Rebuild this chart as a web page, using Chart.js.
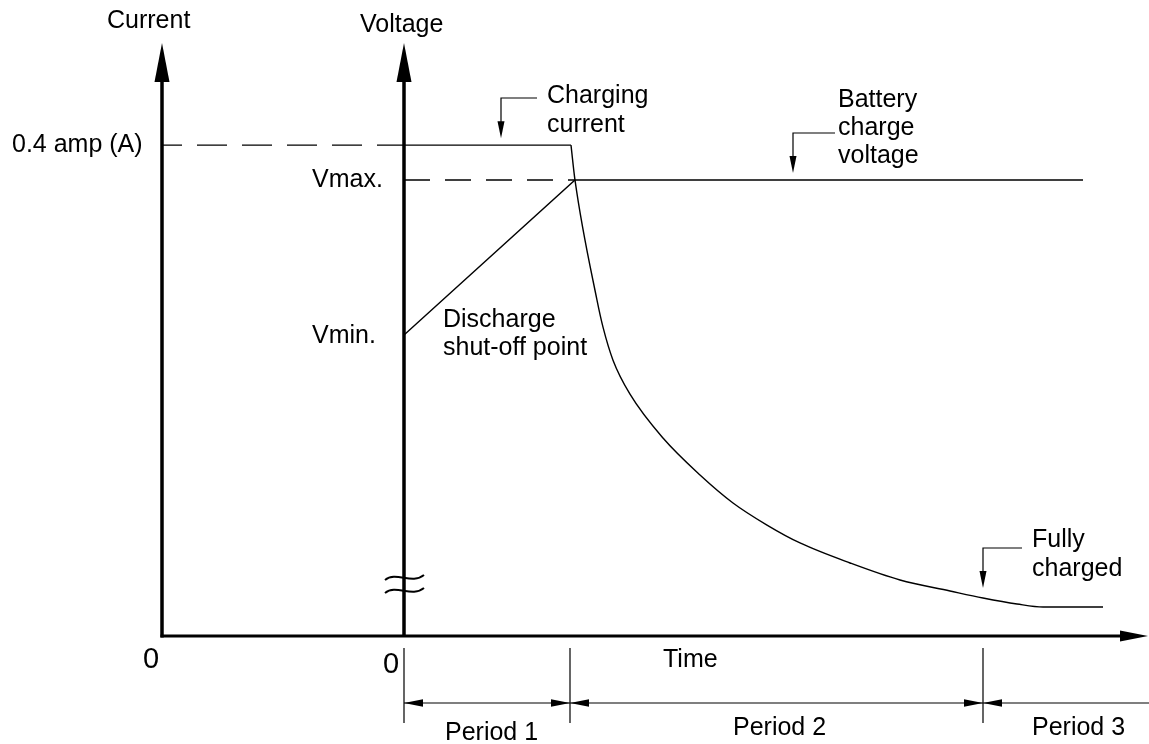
<!DOCTYPE html>
<html>
<head>
<meta charset="utf-8">
<title>Battery charging profile</title>
<script src="https://cdn.jsdelivr.net/npm/chart.js@4.4.1/dist/chart.umd.min.js"></script>
<style>
  html, body { margin: 0; padding: 0; background: #fff; }
  canvas { display: block; }
</style>
</head>
<body>
<canvas id="chart" width="1149" height="744"></canvas>
<script>
// time in arbitrary units, 0 = start of charge (voltage axis)
const currentTime = [0, 16.7, 17.1, 19.3, 19.9, 20.9, 22.6, 25.9, 29.6, 32.9, 36.3, 39.6, 44.6, 49.6, 54.6, 57.9, 61.3, 63.9, 69.9];
const currentAmps = [0.4, 0.4, 0.3715, 0.2737, 0.2517, 0.2248, 0.1971, 0.1613, 0.1312, 0.1084, 0.0904, 0.0758, 0.0595, 0.0456, 0.0367, 0.0310, 0.0261, 0.0236, 0.0236];
const voltageTime = [0, 17.1, 67.9];
const voltageLevels = [3.0, 4.2, 4.2];
const vMin = 3.0;
const vMax = 4.2;
const iCharge = 0.4;
const periodBounds = [0, 16.6, 57.9];
const periodLabels = ['Period 1', 'Period 2', 'Period 3'];

const FONT = '"Liberation Sans", Arial, sans-serif';
const tMin = -24.2, tMax = 71.6;

function pts(xs, ys) {
  return xs.map((x, i) => ({ x: x, y: ys[i] }));
}

function tri(ctx, tx, ty, dx, dy, len, hw) {
  const bx = tx - dx * len, by = ty - dy * len;
  ctx.beginPath();
  ctx.moveTo(tx, ty);
  ctx.lineTo(bx - dy * hw, by + dx * hw);
  ctx.lineTo(bx + dy * hw, by - dx * hw);
  ctx.closePath();
  ctx.fill();
}

function leader(ctx, tipX, tipY, cornerY, endX) {
  ctx.lineWidth = 1.2;
  ctx.beginPath();
  ctx.moveTo(endX, cornerY);
  ctx.lineTo(tipX, cornerY);
  ctx.lineTo(tipX, tipY - 15);
  ctx.stroke();
  tri(ctx, tipX, tipY, 0, 1, 17, 3.5);
}

const diagramPlugin = {
  id: 'diagram',
  afterDatasetsDraw(chart) {
    const { ctx, scales: { x, yI, yV } } = chart;
    const x0 = x.getPixelForValue(tMin);
    const xv = x.getPixelForValue(0);
    const y0 = yI.getPixelForValue(0);
    ctx.save();
    ctx.strokeStyle = '#000';
    ctx.fillStyle = '#000';

    // axes
    ctx.lineWidth = 3.5;
    ctx.beginPath();
    ctx.moveTo(x0, y0 + 1.5); ctx.lineTo(x0, 70);
    ctx.moveTo(xv, y0); ctx.lineTo(xv, 70);
    ctx.stroke();
    ctx.lineWidth = 3;
    ctx.beginPath();
    ctx.moveTo(x0 - 1.5, y0); ctx.lineTo(1125, y0);
    ctx.stroke();
    tri(ctx, x0, 43, 0, -1, 39, 7.5);
    tri(ctx, xv, 43, 0, -1, 39, 7.5);
    tri(ctx, 1148, y0, 1, 0, 28, 5.5);

    // axis break
    ctx.lineWidth = 2;
    [578, 591].forEach(yb => {
      ctx.beginPath();
      ctx.moveTo(xv - 19, yb + 2);
      ctx.bezierCurveTo(xv - 8, yb - 7, xv + 8, yb + 7, xv + 20, yb - 3);
      ctx.stroke();
    });

    // period dimension lines
    const yd = 703;
    ctx.lineWidth = 1.2;
    ctx.beginPath();
    ctx.moveTo(xv, yd); ctx.lineTo(1149, yd);
    periodBounds.forEach(t => {
      const px = x.getPixelForValue(t);
      ctx.moveTo(px, 648); ctx.lineTo(px, 723);
    });
    ctx.stroke();
    periodBounds.forEach((t, i) => {
      const px = x.getPixelForValue(t);
      tri(ctx, px, yd, -1, 0, 19, 3.8);
      if (i > 0) tri(ctx, px, yd, 1, 0, 19, 3.8);
    });

    // leaders
    leader(ctx, x.getPixelForValue(9.7), yI.getPixelForValue(iCharge) - 7, 98, 537);
    leader(ctx, x.getPixelForValue(38.9), yV.getPixelForValue(vMax) - 7, 133, 835);
    leader(ctx, x.getPixelForValue(57.9), 588, 548, 1022);

    // text
    ctx.textBaseline = 'alphabetic';
    ctx.textAlign = 'left';
    ctx.font = '29px ' + FONT;
    ctx.fillText('0', x0 - 19, 668);
    ctx.fillText('0', xv - 21, 673);
    ctx.font = '25px ' + FONT;
    const labels = [
      ['Current', 107, 28],
      ['Voltage', 360, 32],
      ['0.4 amp (A)', 12, yI.getPixelForValue(iCharge) + 7],
      ['Vmax.', 312, yV.getPixelForValue(vMax) + 7],
      ['Vmin.', 312, yV.getPixelForValue(vMin) + 8],
      ['Charging', 547, 103],
      ['current', 547, 132],
      ['Battery', 838, 107],
      ['charge', 838, 135],
      ['voltage', 838, 163],
      ['Discharge', 443, 327],
      ['shut-off point', 443, 355],
      ['Fully', 1032, 547],
      ['charged', 1032, 576],
      ['Time', 663, 667],
      [periodLabels[0], 445, 740],
      [periodLabels[1], 733, 735],
      [periodLabels[2], 1032, 735]
    ];
    labels.forEach(l => ctx.fillText(l[0], l[1], l[2]));
    ctx.restore();
  }
};

new Chart(document.getElementById('chart'), {
  type: 'line',
  data: {
    datasets: [
      {
        data: [{ x: tMin, y: iCharge }, { x: 0, y: iCharge }],
        yAxisID: 'yI',
        borderDash: [30, 15],
        borderDashOffset: 10
      },
      {
        data: pts(currentTime.slice(0, 2), currentAmps.slice(0, 2)),
        yAxisID: 'yI'
      },
      {
        data: pts(currentTime.slice(1), currentAmps.slice(1)),
        yAxisID: 'yI',
        cubicInterpolationMode: 'monotone'
      },
      {
        data: [{ x: 0, y: vMax }, { x: voltageTime[1], y: vMax }],
        yAxisID: 'yV',
        borderDash: [26, 15]
      },
      {
        data: pts(voltageTime, voltageLevels),
        yAxisID: 'yV'
      }
    ]
  },
  options: {
    responsive: false,
    animation: false,
    layout: { padding: { left: 162, right: 29, top: 47, bottom: 108 } },
    plugins: { legend: { display: false }, tooltip: { enabled: false } },
    scales: {
      x: { type: 'linear', display: false, min: tMin, max: tMax },
      yI: { type: 'linear', display: false, min: 0, max: 0.48 },
      yV: { type: 'linear', display: false, min: 0.67, max: 5.23 }
    },
    elements: {
      point: { radius: 0 },
      line: { borderWidth: 1.4, borderColor: '#000', tension: 0, fill: false }
    }
  },
  plugins: [diagramPlugin]
});
</script>
</body>
</html>
